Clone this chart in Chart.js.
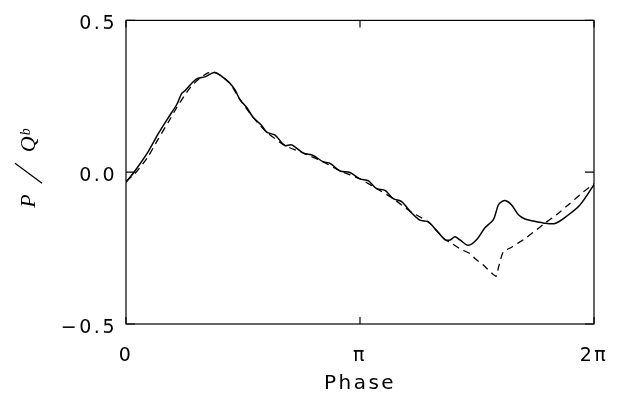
<!DOCTYPE html>
<html>
<head>
<meta charset="utf-8">
<script src="https://cdn.jsdelivr.net/npm/chart.js@4/dist/chart.umd.min.js"></script>
<style>
  html, body { margin:0; padding:0; background:#fff; }
  #wrap { width:633px; height:396px; }
</style>
</head>
<body>
<div id="wrap"><canvas id="phaseChart"></canvas></div>
<script>
/* ── Data (phase in units of π) ──────────────────── */
const solidPhase = [0.000,0.038,0.095,0.138,0.181,0.217,0.238,0.252,0.281,0.306,0.338,0.377,0.409,0.444,0.466,0.487,
  0.516,0.544,0.580,0.601,0.637,0.679,0.708,0.758,0.800,0.843,0.872,0.915,0.957,1.000,1.035,1.071,1.107,1.142,
  1.178,1.214,1.256,1.292,1.328,1.363,1.385,1.406,1.427,1.463,1.499,1.534,1.570,1.591,1.606,1.624,1.648,1.677,
  1.705,1.741,1.783,1.833,1.883,1.940,2.000];
const solidP = [-0.033,0.004,0.068,0.127,0.180,0.223,0.260,0.268,0.293,0.309,0.314,0.328,0.316,0.293,0.271,0.239,
  0.213,0.180,0.154,0.132,0.122,0.088,0.090,0.063,0.055,0.034,0.029,0.004,-0.001,-0.022,-0.028,-0.054,-0.060,-0.087,
  -0.097,-0.129,-0.158,-0.164,-0.193,-0.222,-0.223,-0.213,-0.223,-0.241,-0.222,-0.183,-0.156,-0.108,-0.097,-0.094,-0.108,-0.140,
  -0.154,-0.161,-0.167,-0.169,-0.145,-0.108,-0.041];

const dashPhase = [0.000,0.038,0.095,0.138,0.181,0.217,0.252,0.281,0.316,0.350,0.377,0.409,0.444,0.487,0.544,0.601,
  0.679,0.758,0.843,0.915,1.000,1.071,1.142,1.214,1.292,1.363,1.385,1.427,1.470,1.491,1.527,1.581,1.591,1.612,
  1.648,1.712,1.783,1.840,1.897,1.954,2.000];
const dashP = [-0.030,-0.005,0.052,0.110,0.165,0.213,0.255,0.285,0.310,0.327,0.330,0.316,0.293,0.239,0.180,0.132,
  0.088,0.063,0.034,0.004,-0.022,-0.054,-0.087,-0.129,-0.164,-0.222,-0.231,-0.252,-0.268,-0.284,-0.306,-0.343,-0.316,-0.263,
  -0.247,-0.215,-0.172,-0.140,-0.103,-0.065,-0.038];

const xTickLabels = ['0', 'π', '2π'];
const yTicks = [-0.5, 0.0, 0.5];

const pts = (xs, ys) => xs.map((x, i) => ({ x, y: ys[i] }));

const FONT = "'DejaVu Sans', 'Liberation Sans', sans-serif";
const SERIF_IT = "italic 22px 'Liberation Serif', serif";

/* ── Frame + inward ticks + y title ──────────────── */
const framePlugin = {
  id: 'frame',
  beforeLayout(chart) { chart.ctx.letterSpacing = '2.5px'; },
  beforeDraw(chart) { chart.ctx.letterSpacing = '2.5px'; },
  afterDraw(chart) {
    const { ctx, chartArea: a, scales: { x, y } } = chart;
    ctx.save();
    ctx.letterSpacing = '0px';
    ctx.strokeStyle = '#000';
    ctx.lineWidth = 1.2;
    ctx.strokeRect(a.left, a.top, a.right - a.left, a.bottom - a.top);
    ctx.beginPath();
    [0, 1, 2].forEach(v => {
      const px = x.getPixelForValue(v);
      ctx.moveTo(px, a.bottom); ctx.lineTo(px, a.bottom - 7);
      ctx.moveTo(px, a.top);    ctx.lineTo(px, a.top + 7);
    });
    yTicks.forEach(v => {
      const py = y.getPixelForValue(v);
      ctx.moveTo(a.left, py);  ctx.lineTo(a.left + 9, py);
      ctx.moveTo(a.right, py); ctx.lineTo(a.right - 9, py);
    });
    ctx.stroke();

    // y axis title: P / Q_b, rotated; the slash is a thin stroke like the original
    ctx.translate(28, 168);
    ctx.rotate(-Math.PI / 2);
    ctx.fillStyle = '#000';
    ctx.textBaseline = 'alphabetic';
    ctx.textAlign = 'left';
    const pieces = [
      { t: 'P', font: SERIF_IT, dy: 7, gap: 11 },
      { slash: true, w: 20, gap: 11 },
      { t: 'Q', font: SERIF_IT, dy: 7, gap: 1 },
      { t: 'b', font: "italic 14px 'Liberation Serif', serif", dy: 2, gap: 0 }
    ];
    let total = 0;
    pieces.forEach(p => {
      if (!p.slash) { ctx.font = p.font; p.w = ctx.measureText(p.t).width; }
      total += p.w + p.gap;
    });
    let cx = -total / 2;
    pieces.forEach(p => {
      if (p.slash) {
        ctx.beginPath();
        ctx.moveTo(cx, 14);
        ctx.lineTo(cx + p.w, -13);
        ctx.lineWidth = 1.3;
        ctx.stroke();
      } else {
        ctx.font = p.font;
        ctx.fillText(p.t, cx, p.dy);
      }
      cx += p.w + p.gap;
    });
    ctx.restore();
  }
};

/* ── Chart ───────────────────────────────────────── */
new Chart(document.getElementById('phaseChart'), {
  type: 'line',
  data: {
    datasets: [
      {
        label: 'solid',
        data: pts(solidPhase, solidP),
        borderColor: '#000',
        borderWidth: 1.5,
        pointRadius: 0,
        tension: 0.3,
        fill: false
      },
      {
        label: 'dashed',
        data: pts(dashPhase, dashP),
        borderColor: '#000',
        borderWidth: 1.3,
        borderDash: [7, 5],
        pointRadius: 0,
        tension: 0.2,
        fill: false
      }
    ]
  },
  options: {
    responsive: true,
    maintainAspectRatio: false,
    animation: false,
    layout: { padding: { top: 12, right: 39, left: 0, bottom: 0 } },
    plugins: { legend: { display: false }, tooltip: { enabled: false } },
    scales: {
      x: {
        type: 'linear',
        min: 0, max: 2,
        grid: { display: false, drawTicks: false },
        border: { display: false },
        ticks: {
          stepSize: 1,
          color: '#000',
          font: { family: FONT, size: 19 },
          padding: 21,
          maxRotation: 0,
          callback: v => xTickLabels[v] ?? ''
        },
        title: {
          display: true,
          text: 'Phase',
          color: '#000',
          font: { family: FONT, size: 20 },
          padding: { top: 0, bottom: 0 }
        },
        afterFit: s => { s.height = 72; }
      },
      y: {
        type: 'linear',
        min: -0.5, max: 0.5,
        grid: { display: false, drawTicks: false },
        border: { display: false },
        afterBuildTicks: s => { s.ticks = yTicks.map(v => ({ value: v })); },
        ticks: {
          color: '#000',
          font: { family: FONT, size: 19 },
          padding: 9,
          labelOffset: 4,
          callback: v => (v < 0 ? '−' : '') + Math.abs(v).toFixed(1)
        },
        afterFit: s => { s.width = 126; }
      }
    }
  },
  plugins: [framePlugin]
});
</script>
</body>
</html>
